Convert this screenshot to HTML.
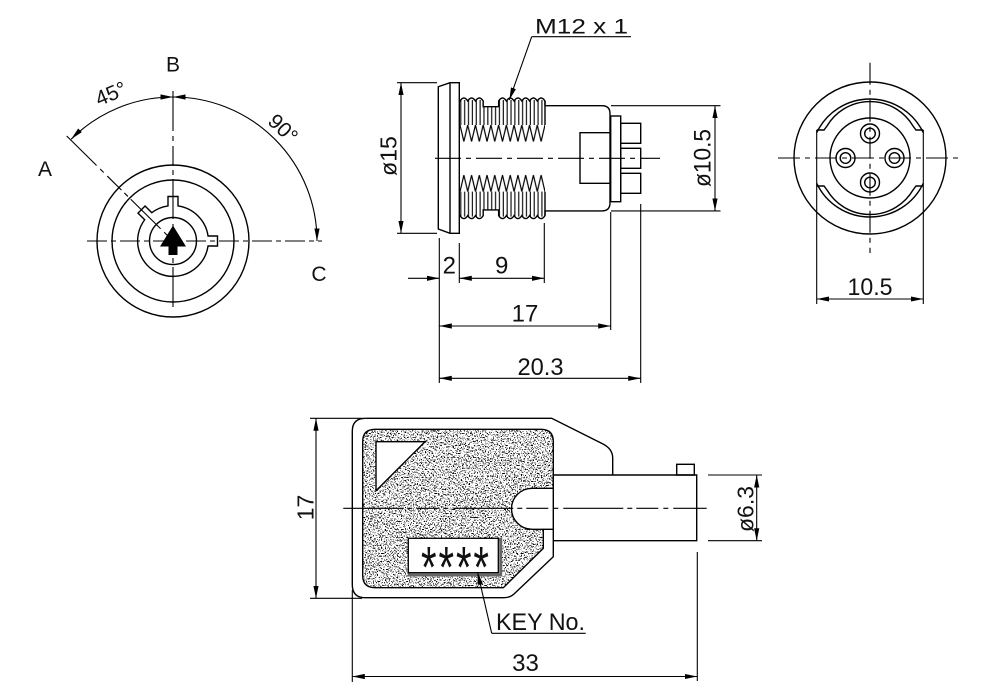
<!DOCTYPE html>
<html><head><meta charset="utf-8"><style>
html,body{margin:0;padding:0;background:#fff;}
svg{display:block;}
text{font-family:"Liberation Sans",sans-serif;fill:#111;}
</style></head><body>
<svg width="1000" height="700" viewBox="0 0 1000 700" xmlns="http://www.w3.org/2000/svg">
<defs>
<marker id="ar" markerUnits="userSpaceOnUse" markerWidth="13" markerHeight="7" viewBox="0 -3.5 13 7" refX="12.5" refY="0" orient="auto-start-reverse">
<path d="M0,-2.6 L12.5,0 L0,2.6 Z" fill="#000"/>
</marker>
<pattern id="vl" patternUnits="userSpaceOnUse" x="460" y="0" width="3.8636" height="400">
<line x1="0.8" y1="0" x2="0.8" y2="400" stroke="#000" stroke-width="1.1"/>
</pattern>
<pattern id="zzt" patternUnits="userSpaceOnUse" x="460" y="124.5" width="7.727" height="18">
<path d="M0,0.5 L3.864,17 L7.727,0.5" fill="none" stroke="#000" stroke-width="1.2"/>
</pattern>
<pattern id="zzb" patternUnits="userSpaceOnUse" x="460" y="174.6" width="7.727" height="18">
<path d="M0,17 L3.864,0.5 L7.727,17" fill="none" stroke="#000" stroke-width="1.2"/>
</pattern>
<clipPath id="stipClip">
<path d="M375,429.3 H541 Q553.3,429.3 553.3,441.6 V488.3 H532 A20.5,20.5 0 0 0 532,529.3 H543.3 V548.3 L503.3,587.7 H375 Q362.7,587.7 362.7,575.4 V441.6 Q362.7,429.3 375,429.3 Z"/>
</clipPath>
<filter id="noise" x="0" y="0" width="1" height="1" color-interpolation-filters="sRGB">
<feTurbulence type="fractalNoise" baseFrequency="0.75" numOctaves="2" seed="7" result="t"/>
<feColorMatrix in="t" type="matrix" values="0 0 0 0 0  0 0 0 0 0  0 0 0 0 0  -1 0 0 0 1" result="a"/>
<feComponentTransfer in="a"><feFuncA type="linear" slope="20" intercept="-11.3"/></feComponentTransfer>
</filter>
</defs>

<rect width="1000" height="700" fill="#fff"/>

<!-- ================= LEFT VIEW ================= -->
<g fill="none" stroke="#000" stroke-width="1.4">
<circle cx="173" cy="241" r="76"/>
<circle cx="173" cy="241" r="61"/>
<path d="M208.05,246 A35.4,35.4 0 1 1 144.68,219.75 L138,213.07 L145.07,206 L151.75,212.68 A35.4,35.4 0 0 1 168,205.95 V196.5 H178 V205.95 A35.4,35.4 0 0 1 208.05,236 H217.5 V246 H208.05 Z"/>
<circle cx="173" cy="241" r="23.5"/>
</g>
<polygon points="173,225.5 186,246.5 177.5,246.5 177.5,255 168.5,255 168.5,246.5 160,246.5" fill="#000"/>
<g stroke="#000" stroke-width="1.1" fill="none">
<line x1="87" y1="241" x2="322" y2="241" stroke-dasharray="20 4 5 4"/>
<line x1="173" y1="91" x2="173" y2="312" stroke-dasharray="40 5 5 5 20 4 5 4"/>
<line x1="66.7" y1="136" x2="173" y2="241" stroke-dasharray="42 5 5 5 20 4 5 4"/>
<path d="M71.18,139.18 A144,144 0 0 1 173,97" marker-start="url(#ar)" marker-end="url(#ar)"/>
<path d="M173,97 A144,144 0 0 1 317,241" marker-start="url(#ar)" marker-end="url(#ar)"/>
</g>
<text x="173" y="71.7" font-size="21" text-anchor="middle">B</text>
<text x="45" y="176" font-size="21" text-anchor="middle">A</text>
<text x="319" y="281" font-size="21" text-anchor="middle">C</text>
<g transform="translate(110.7,93.3) rotate(-23)"><text x="0" y="7.5" font-size="21" text-anchor="middle">45°</text></g>
<g transform="translate(283.3,128.3) rotate(44)"><text x="0" y="7.5" font-size="21" text-anchor="middle">90°</text></g>

<!-- ================= MIDDLE VIEW ================= -->
<rect x="460" y="100" width="85" height="25" fill="url(#vl)"/>
<rect x="460" y="191.6" width="85" height="25" fill="url(#vl)"/>
<rect x="483.6" y="96" width="14.6" height="10.3" fill="#fff"/>
<rect x="483.6" y="210.3" width="14.6" height="10.3" fill="#fff"/>
<rect x="460" y="124.5" width="85" height="18" fill="url(#zzt)"/>
<rect x="460" y="174.6" width="85" height="17.5" fill="url(#zzb)"/>
<g fill="none" stroke="#000" stroke-width="1.4">
<path d="M459.3,82.7 H450 L438.3,86.7 V229 L450,233.3 H459.3 Z"/>
<line x1="450" y1="82.7" x2="450" y2="233.3"/>
<path d="M459.3,101 H460 Q463.86,95 467.73,101 Q471.59,95 475.45,101 Q479.32,95 483.18,101 V106.7 H498.64 V101 Q502.5,95 506.36,101 Q510.23,95 514.09,101 Q517.95,95 521.82,101 Q525.68,95 529.55,101 Q533.41,95 537.27,101 Q541.14,95 545,101 V105.7 H602 Q610,105.7 610,113.7 V202.9 Q610,210.9 602,210.9 H545 V215.6 Q541.14,221.6 537.27,215.6 Q533.41,221.6 529.55,215.6 Q525.68,221.6 521.82,215.6 Q517.95,221.6 514.09,215.6 Q510.23,221.6 506.36,215.6 Q502.5,221.6 498.64,215.6 V209.9 H483.18 V215.6 Q479.32,221.6 475.45,215.6 Q471.59,221.6 467.73,215.6 Q463.86,221.6 460,215.6 H459.3"/>
<line x1="545" y1="101" x2="545" y2="125"/>
<line x1="545" y1="191.6" x2="545" y2="215.6"/>
<path d="M610,132.7 H580 V183.3 H610"/>
<rect x="610.7" y="116" width="10" height="85.7"/>
<rect x="620.7" y="123.3" width="20" height="20"/>
<rect x="620.7" y="148.3" width="20" height="20"/>
<rect x="620.7" y="173.3" width="20" height="20"/>
</g>
<line x1="435" y1="158.3" x2="660" y2="158.3" stroke="#000" stroke-width="1.1" stroke-dasharray="26 5 5 5"/>
<g stroke="#000" stroke-width="1.1" fill="none">
<line x1="397" y1="82.7" x2="437" y2="82.7"/>
<line x1="397" y1="233.3" x2="437" y2="233.3"/>
<line x1="401" y1="82.7" x2="401" y2="233.3" marker-start="url(#ar)" marker-end="url(#ar)"/>
<line x1="611" y1="105.7" x2="720.5" y2="105.7"/>
<line x1="611" y1="210.9" x2="720.5" y2="210.9"/>
<line x1="715" y1="105.7" x2="715" y2="210.9" marker-start="url(#ar)" marker-end="url(#ar)"/>
<line x1="531.7" y1="36.7" x2="631" y2="36.7"/>
<line x1="531.7" y1="36.7" x2="509.3" y2="100" marker-end="url(#ar)"/>
<line x1="439.3" y1="238" x2="439.3" y2="383"/>
<line x1="459.3" y1="243" x2="459.3" y2="283"/>
<line x1="544.3" y1="223" x2="544.3" y2="283"/>
<line x1="610.7" y1="212" x2="610.7" y2="330"/>
<line x1="640.7" y1="204" x2="640.7" y2="383"/>
<line x1="408" y1="278.3" x2="439.3" y2="278.3" marker-end="url(#ar)"/>
<line x1="459.3" y1="278.3" x2="544.3" y2="278.3" marker-start="url(#ar)" marker-end="url(#ar)"/>
<line x1="439.3" y1="326" x2="610.7" y2="326" marker-start="url(#ar)" marker-end="url(#ar)"/>
<line x1="439.3" y1="378.3" x2="640.7" y2="378.3" marker-start="url(#ar)" marker-end="url(#ar)"/>
</g>
<text x="535" y="33.3" font-size="21" textLength="93" lengthAdjust="spacingAndGlyphs">M12 x 1</text>
<g transform="translate(396.7,156) rotate(-90)"><text x="0" y="0" font-size="23" text-anchor="middle">ø15</text></g>
<g transform="translate(710.5,158) rotate(-90)"><text x="0" y="0" font-size="24" text-anchor="middle" textLength="58" lengthAdjust="spacingAndGlyphs">ø10.5</text></g>
<text x="449.3" y="273.3" font-size="24" text-anchor="middle">2</text>
<text x="501.7" y="273.3" font-size="24" text-anchor="middle">9</text>
<text x="525" y="321.7" font-size="24" text-anchor="middle">17</text>
<text x="540.5" y="375" font-size="24" text-anchor="middle" textLength="46" lengthAdjust="spacingAndGlyphs">20.3</text>

<!-- ================= RIGHT VIEW ================= -->
<g fill="none" stroke="#000" stroke-width="1.4">
<circle cx="870" cy="158" r="76"/>
<path d="M816.7,132.7 A59,59 0 0 1 923.3,132.7"/>
<path d="M816.7,183.3 A59,59 0 0 0 923.3,183.3"/>
<path d="M816.7,130 H824 L827,126 A50,50 0 0 1 913,126 L916,130 H923.3"/>
<path d="M816.7,186 H824 L827,190 A50,50 0 0 0 913,190 L916,186 H923.3"/>
<circle cx="870" cy="158" r="40"/>
<circle cx="870" cy="133.5" r="9.5"/><circle cx="870" cy="133.5" r="5.3"/>
<circle cx="870" cy="182.5" r="9.5"/><circle cx="870" cy="182.5" r="5.3"/>
<circle cx="845.5" cy="158" r="9.5"/><circle cx="845.5" cy="158" r="5.3"/>
<circle cx="894.5" cy="158" r="9.5"/><circle cx="894.5" cy="158" r="5.3"/>
</g>
<g stroke="#000" stroke-width="1.1" fill="none">
<line x1="816.7" y1="130" x2="816.7" y2="304"/>
<line x1="923.3" y1="130" x2="923.3" y2="304"/>
<line x1="778" y1="158" x2="962" y2="158" stroke-dasharray="22 5 5 5"/>
<line x1="870" y1="62.7" x2="870" y2="253" stroke-dasharray="22 5 5 5"/>
<line x1="816.7" y1="299" x2="923.3" y2="299" marker-start="url(#ar)" marker-end="url(#ar)"/>
</g>
<text x="870" y="295" font-size="24" text-anchor="middle" textLength="45" lengthAdjust="spacingAndGlyphs">10.5</text>

<!-- ================= KEY ================= -->
<g clip-path="url(#stipClip)">
<rect x="360" y="426" width="196" height="165" fill="#fff"/>
<rect x="360" y="426" width="196" height="165" filter="url(#noise)"/>
</g>
<g fill="none" stroke="#000" stroke-width="1.4">
<path d="M365.3,418.3 H551.7 L603,444 Q612.7,449 612.7,458 V475"/>
<path d="M553.3,475 V556.7 L514,594 Q510,597.7 504,597.7 H365.3 Q352.3,597.7 352.3,584.7 V431.3 Q352.3,418.3 365.3,418.3"/>
<path d="M553.3,475 H696.7 V540.7 H553.3"/>
<rect x="676.7" y="464.3" width="17.6" height="10.7"/>
<path d="M375,429.3 H541 Q553.3,429.3 553.3,441.6 V488.3 H532 A20.5,20.5 0 0 0 532,529.3 H543.3 V548.3 L503.3,587.7 H375 Q362.7,587.7 362.7,575.4 V441.6 Q362.7,429.3 375,429.3 Z"/>
<line x1="543.3" y1="529.3" x2="553.3" y2="529.3"/>
</g>
<polygon points="376,441.7 425,441.7 376,490.7" fill="#fff" stroke="#000" stroke-width="1.4"/>
<rect x="409.3" y="539.3" width="91.4" height="35.7" fill="#fff" stroke="#666" stroke-width="3"/>
<rect x="408.3" y="538.3" width="90" height="34.4" fill="#fff" stroke="#000" stroke-width="1.3"/>
<text x="421" y="0" font-size="40" letter-spacing="8" transform="translate(0,587.5) scale(1,1.45)" textLength="76" lengthAdjust="spacing">****</text>
<line x1="343.3" y1="508.3" x2="706.7" y2="508.3" stroke="#000" stroke-width="1.1" stroke-dasharray="60 4 5 4 22 5 5 5"/>
<g stroke="#000" stroke-width="1.1" fill="none">
<line x1="310" y1="418.3" x2="362" y2="418.3"/>
<line x1="310" y1="598.3" x2="362" y2="598.3"/>
<line x1="316" y1="418.3" x2="316" y2="598.3" marker-start="url(#ar)" marker-end="url(#ar)"/>
<line x1="708" y1="475" x2="762" y2="475"/>
<line x1="708" y1="540.7" x2="762" y2="540.7"/>
<line x1="756.7" y1="475" x2="756.7" y2="540.7" marker-start="url(#ar)" marker-end="url(#ar)"/>
<line x1="352.3" y1="590" x2="352.3" y2="682"/>
<line x1="697.3" y1="552" x2="697.3" y2="681"/>
<line x1="352.3" y1="676.5" x2="697.3" y2="676.5" marker-start="url(#ar)" marker-end="url(#ar)"/>
<line x1="491.7" y1="633.3" x2="477.5" y2="572" marker-end="url(#ar)"/>
<line x1="491.7" y1="633.3" x2="585.7" y2="633.3"/>
</g>
<g transform="translate(313.3,507.5) rotate(-90)"><text x="0" y="0" font-size="23" text-anchor="middle">17</text></g>
<g transform="translate(753.3,509) rotate(-90)"><text x="0" y="0" font-size="23" text-anchor="middle">ø6.3</text></g>
<text x="496" y="630" font-size="24" textLength="89" lengthAdjust="spacingAndGlyphs">KEY No.</text>
<text x="525.5" y="671" font-size="24" text-anchor="middle">33</text>
</svg>
</body></html>
